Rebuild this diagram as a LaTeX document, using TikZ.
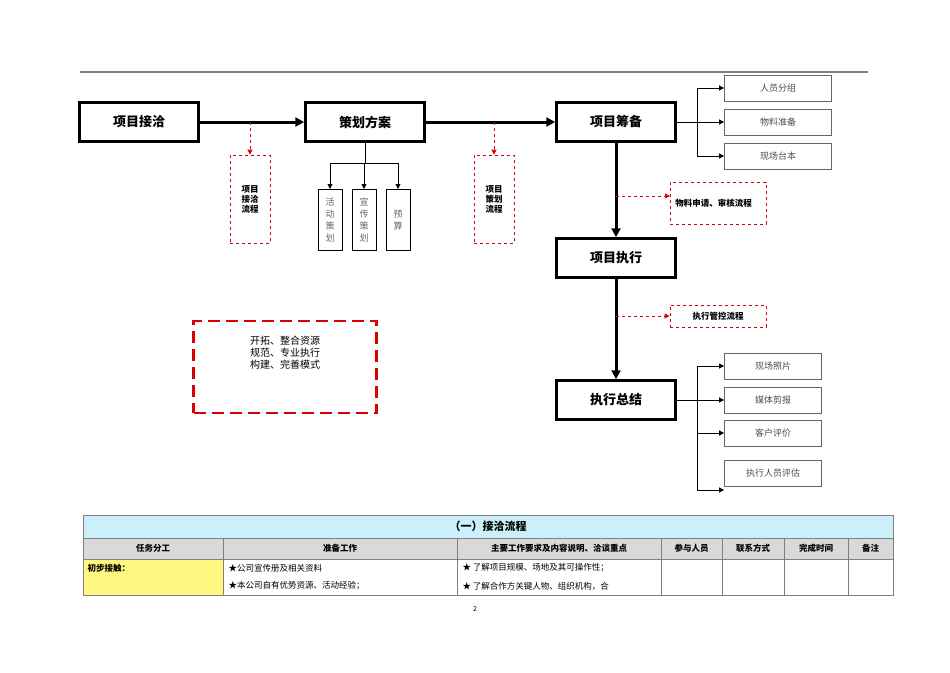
\documentclass[tikz,border=0pt]{standalone}
\usepackage{fontspec}
\setmainfont{Noto Sans CJK SC}
\usetikzlibrary{arrows.meta}
\begin{document}
\begin{tikzpicture}[x=1pt,y=-1pt,
 main/.style={draw,line width=2.5pt,minimum width=119pt,minimum height=39pt,font=\fontsize{13}{15}\selectfont\bfseries},
 sub/.style={draw,gray!80!black,line width=0.8pt,text=black!70,minimum width=107pt,minimum height=26pt,font=\fontsize{9}{11}\selectfont},
 vbox/.style={draw,line width=0.8pt,text=black!60,minimum width=24pt,minimum height=61pt,align=center,font=\fontsize{9}{12}\selectfont},
 rd/.style={draw=red!85!black,dashed,line width=0.8pt,font=\fontsize{8.5}{10}\selectfont\bfseries,align=left},
 big/.style={line width=3pt,-{Triangle[length=9pt,width=9pt]}},
 thin/.style={line width=0.8pt,-{Triangle[length=5pt,width=5pt]}},
 rarr/.style={red!85!black,dashed,line width=0.8pt,-{Triangle[length=5pt,width=5pt]}},
 cell/.style={font=\fontsize{8.5}{10}\selectfont}]
\useasboundingbox (0,0) rectangle (950,672);
\draw[gray,line width=1.2pt] (80,72) -- (868,72);
\node[main] (a) at (139,122) {项目接洽};
\node[main] (b) at (365,122) {策划方案};
\node[main] (c) at (616,122) {项目筹备};
\node[main] (d) at (616,258) {项目执行};
\node[main] (e) at (616,400) {执行总结};
\draw[big] (a) -- (b);
\draw[big] (b) -- (c);
\draw[big] (c) -- (d);
\draw[big] (d) -- (e);
% red dashed
\node[rd,minimum width=40pt,minimum height=88pt,align=center] (r1) at (250,199) {项目\\接洽\\流程};
\node[rd,minimum width=40pt,minimum height=88pt,align=center] (r2) at (494,199) {项目\\策划\\流程};
\node[rd,minimum width=96pt,minimum height=42pt,anchor=north west,text width=86pt,inner sep=4pt] (r3) at (670,182) {物料申请、审核流程};
\node[rd,minimum width=96pt,minimum height=22pt] (r4) at (718,316) {执行管控流程};
\coordinate (p1) at (250,122); \coordinate (p2) at (494,122);
\coordinate (p3) at (616,196); \coordinate (p4) at (616,316);
\draw[rarr] (p1) -- (r1.north);
\draw[rarr] (p2) -- (r2.north);
\draw[rarr] (p3) -- (r3.west |- p3);
\draw[rarr] (p4) -- (r4.west);
% plan children
\node[vbox,anchor=north] (v1) at (330,189) {活\\动\\策\\划};
\node[vbox,anchor=north] (v2) at (364,189) {宣\\传\\策\\划};
\node[vbox,anchor=north] (v3) at (398,189) {预\\算};
\draw[line width=0.8pt] (b.south) -- (365,163);
\draw[line width=0.8pt] (330,163) -- (398,163);
\draw[thin] (330,163) -- (v1.north);
\draw[thin] (364,163) -- (v2.north);
\draw[thin] (398,163) -- (v3.north);
% prep children
\node[sub] (s1) at (778,88) {人员分组};
\node[sub] (s2) at (778,122) {物料准备};
\node[sub] (s3) at (778,156) {现场台本};
\draw[line width=0.8pt] (c.east) -- (697,122) (697,88) -- (697,156);
\draw[thin] (697,88) -- (s1); \draw[thin] (697,122) -- (s2); \draw[thin] (697,156) -- (s3);
% summary children
\node[sub,minimum width=97pt] (t1) at (773,366) {现场照片};
\node[sub,minimum width=97pt] (t2) at (773,400) {媒体剪报};
\node[sub,minimum width=97pt] (t3) at (773,433) {客户评价};
\node[sub,minimum width=97pt] (t4) at (773,473) {执行人员评估};
\draw[line width=0.8pt] (e.east) -- (697,400) (697,366) -- (697,490);
\draw[thin] (697,366) -- (t1); \draw[thin] (697,400) -- (t2); \draw[thin] (697,433) -- (t3); \draw[thin] (697,490) -- (t4.west |- 697,490);
% big dashed
\node[draw=red!85!black,line width=2.5pt,dash pattern=on 12pt off 6pt,minimum width=183pt,minimum height=92pt] (m) at (285,367) {};
\node[font=\fontsize{10}{12}\selectfont,align=left,anchor=north] (mt) at (285,333) {开拓、整合资源\\规范、专业执行\\构建、完善模式};
% table
\fill[cyan!20] (83,515) rectangle (893,538);
\fill[gray!30] (83,538) rectangle (893,559);
\fill[yellow!50] (83,559) rectangle (223,595);
\draw[gray,line width=0.8pt] (83,515) rectangle (893,595) (83,538) -- (893,538) (83,559) -- (893,559);
\foreach \x in {223,457,661,722,784,848} \draw[gray,line width=0.8pt] (\x,538) -- (\x,595);
\node[font=\fontsize{11}{13}\selectfont\bfseries] (th) at (488,526) {（一）接洽流程};
\foreach \x/\t in {153/任务分工,340/准备工作,559/主要工作要求及内容说明、洽谈重点,691.5/参与人员,753/联系方式,816/完成时间,870.5/备注}
  \node[cell,font=\fontsize{8.5}{10}\selectfont\bfseries] at (\x,548.5) {\t};
\node[cell,anchor=west,font=\fontsize{8.5}{10}\selectfont\bfseries] (c1) at (84,568) {初步接触：};
\node[cell,anchor=west] (c2) at (225,568) {★公司宣传册及相关资料};
\node[cell,anchor=west] (c3) at (225,586) {★本公司自有优势资源、活动经验；};
\node[cell,anchor=west] (c4) at (459,568) {★ 了解项目规模、场地及其可操作性；};
\node[cell,anchor=west] (c5) at (459,586) {★ 了解合作方关键人物、组织机构，合};
\node[font=\fontsize{7}{8}\selectfont] (pg) at (475,609) {2};
\end{tikzpicture}
\end{document}
